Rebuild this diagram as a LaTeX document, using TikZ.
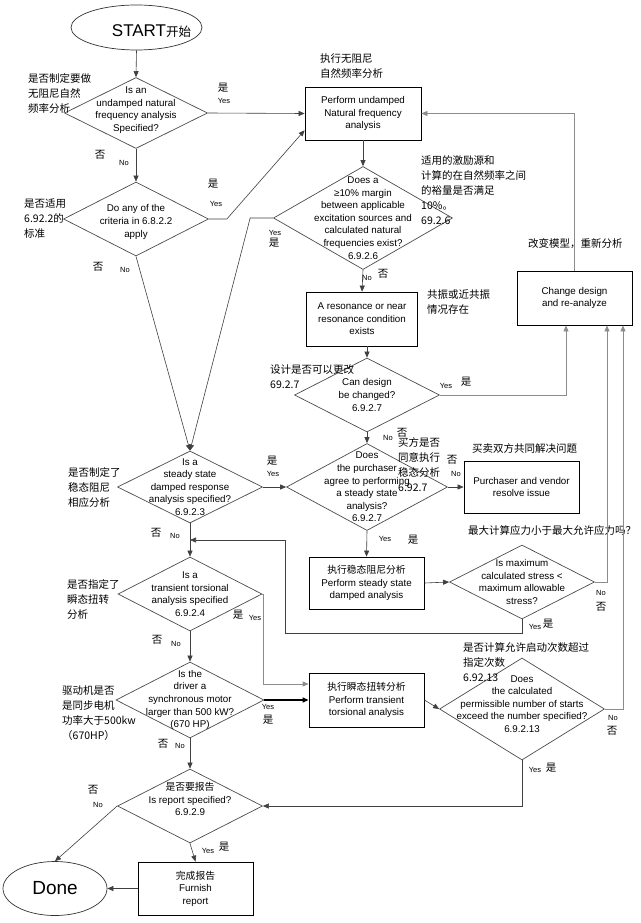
\documentclass[tikz,border=0pt]{standalone}
\usepackage{fontspec}
\setmainfont{Liberation Sans}
\newfontfamily\cjk{Noto Sans CJK SC}
\usetikzlibrary{arrows.meta,shapes.geometric,calc}

\begin{document}
\begin{tikzpicture}[x=1pt,y=-1pt,
 font=\fontsize{9.8}{12.6}\selectfont,>={Triangle[length=6pt,width=5pt]},
 box/.style={draw,line width=0.8pt,align=center,minimum width=115pt,minimum height=53pt,inner sep=1pt},
 dec/.style={draw=black!70,line width=0.7pt,diamond,inner sep=0pt},
 term/.style={draw=black!80,line width=0.7pt,ellipse,inner sep=0pt},
 qtxt/.style={align=center,inner sep=0pt},
 note/.style={font=\cjk\fontsize{10.5}{15}\selectfont,align=left,anchor=north west,inner sep=0pt},
 en/.style={font=\fontsize{7.5}{8}\selectfont,inner sep=0pt},
 zh/.style={font=\cjk\fontsize{10.5}{11}\selectfont,inner sep=0pt},
 flow/.style={->,draw=black!75,line width=0.6pt},
 gray flow/.style={->,draw=black!45,line width=0.8pt}]
\fill[white] (0,0) rectangle (640,923);
\useasboundingbox (0,0) rectangle (640,923);

\node[term,minimum width=131pt,minimum height=45pt,
 label={[xshift=15pt,yshift=-4pt]center:{\fontsize{17}{17}\selectfont START{\cjk\fontsize{12.5}{12.5}\selectfont 开始}}}] (start) at (136.5,27.5) {};
\node[dec,minimum width=143pt,minimum height=71pt,
 label={[qtxt,yshift=3pt]center:{Is an\\undamped natural\\frequency analysis\\Specified?}}] (d1) at (136,113) {};
\node[box,minimum width=116pt] (p1) at (363,113.5) {Perform undamped\\Natural frequency\\analysis};
\node[dec,minimum width=145pt,minimum height=74pt,
 label={[qtxt,yshift=-3pt]center:{Do any of the\\criteria in 6.8.2.2\\apply}}] (d2) at (136,219) {};
\node[dec,minimum width=179pt,minimum height=103pt,
 label={[qtxt]center:{Does a\\≥10\% margin\\between applicable\\excitation sources and\\calculated natural\\frequencies exist?\\6.9.2.6}}] (d3) at (363,218) {};
\node[box,minimum width=111pt,minimum height=54pt] (p2) at (362,319) {A resonance or near\\resonance condition\\exists};
\node[box,minimum height=54pt] (p3) at (574.5,298) {Change design\\and re-analyze};
\node[dec,minimum width=145pt,minimum height=74pt,
 label={[qtxt]center:{Can design\\be changed?\\6.9.2.7}}] (d5) at (367,395) {};
\node[dec,minimum width=145pt,minimum height=72pt,
 label={[qtxt]center:{Is a\\steady state\\damped response\\analysis specified?\\6.9.2.3}}] (d4) at (190,487) {};
\node[dec,minimum width=161pt,minimum height=87pt,
 label={[qtxt]center:{Does\\the purchaser\\agree to performing\\a steady state\\analysis?\\6.9.2.7}}] (d6) at (367,487) {};
\node[box,minimum height=52pt] (p4) at (521.5,487) {Purchaser and vendor\\resolve issue};
\node[box,minimum height=52pt] (p5) at (366.5,583) {{\cjk 执行稳态阻尼分析}\\Perform steady state\\damped analysis};
\node[dec,minimum width=145pt,minimum height=74pt,
 label={[qtxt]center:{Is maximum\\calculated stress <\\maximum allowable\\stress?}}] (d7) at (522,582) {};
\node[dec,minimum width=144pt,minimum height=74pt,
 label={[qtxt]center:{Is a\\transient torsional\\analysis specified\\6.9.2.4}}] (d8) at (190,594) {};
\node[dec,minimum width=148pt,minimum height=76pt,
 label={[qtxt]center:{Is the\\driver a\\synchronous motor\\larger than 500 kW?\\(670 HP)}}] (d9) at (190,700) {};
\node[box,minimum height=54pt] (p6) at (366.5,700) {{\cjk 执行瞬态扭转分析}\\Perform transient\\torsional analysis};
\node[dec,minimum width=165pt,minimum height=102pt,
 label={[qtxt,yshift=5pt]center:{Does\\the calculated\\permissible number of starts\\exceed the number specified?\\6.9.2.13}}] (d11) at (522,709) {};
\node[dec,minimum width=145pt,minimum height=74pt,
 label={[qtxt,yshift=7pt]center:{{\cjk 是否要报告}\\Is report specified?\\6.9.2.9}}] (d10) at (190,806) {};
\node[box] (p7) at (195.5,888.5) {{\cjk 完成报告}\\Furnish\\report};
\node[term,minimum width=104pt,minimum height=54pt] (done) at (55,888.5) {\fontsize{19}{19}\selectfont Done};

\node[note] (zd1) at (28,73) {是否制定要做\\无阻尼自然\\频率分析};
\node[note] (zp1) at (320,53) {执行无阻尼\\自然频率分析};
\node[note] (zd2) at (24,199) {是否适用\\6.92.2的\\标准};
\node[note] (zd3) at (421,155) {适用的激励源和\\计算的在自然频率之间\\的裕量是否满足\\10\%。\\69.2.6};
\node[note] (zp3) at (528,238) {改变模型，重新分析};
\node[note] (zp2) at (427,289) {共振或近共振\\情况存在};
\node[note] (zd5) at (270,364) {设计是否可以更改\\69.2.7};
\node[note] (zd4) at (68,467) {是否制定了\\稳态阻尼\\相应分析};
\node[note] (zd6) at (398,437) {买方是否\\同意执行\\稳态分析\\6.92.7};
\node[note] (zp4) at (472,443) {买卖双方共同解决问题};
\node[note] (zd7) at (468,525) {最大计算应力小于最大允许应力吗？};
\node[note] (zd8) at (67,579) {是否指定了\\瞬态扭转\\分析};
\node[note] (zd9) at (62,685) {驱动机是否\\是同步电机\\功率大于500kw\\（670HP）};
\node[note] (zd11) at (463,642) {是否计算允许启动次数超过\\指定次数\\6.92.13};

\node[zh] (d1yz) at (223,88) {是}; \node[en] (d1ye) at (224,101) {Yes};
\node[zh] (d1nz) at (100,155) {否}; \node[en] (d1ne) at (124,163) {No};
\node[zh] (d2yz) at (213,184) {是}; \node[en] (d2ye) at (216,204) {Yes};
\node[zh] (d2nz) at (98,267) {否}; \node[en] (d2ne) at (125,270) {No};
\node[en] (d3ye) at (275,233) {Yes}; \node[zh] (d3yz) at (274,243) {是};
\node[en] (d3ne) at (367,278) {No}; \node[zh] (d3nz) at (383,274) {否};
\node[en] (d5ye) at (446,386) {Yes}; \node[zh] (d5yz) at (466,382) {是};
\node[en] (d5ne) at (388,438) {No}; \node[zh] (d5nz) at (402,433) {否};
\node[zh] (d4yz) at (272,461) {是}; \node[en] (d4ye) at (273,474) {Yes};
\node[zh] (d4nz) at (156,533) {否}; \node[en] (d4ne) at (175,536) {No};
\node[zh] (d6nz) at (452,460) {否}; \node[en] (d6ne) at (456,474) {No};
\node[en] (d6ye) at (385,539) {Yes}; \node[zh] (d6yz) at (413,540) {是};
\node[en] (d7ne) at (601,593) {No}; \node[zh] (d7nz) at (601,607) {否};
\node[en] (d7ye) at (535,627) {Yes}; \node[zh] (d7yz) at (548,624) {是};
\node[zh] (d8yz) at (238,615) {是}; \node[en] (d8ye) at (255,618) {Yes};
\node[zh] (d8nz) at (157,640) {否}; \node[en] (d8ne) at (176,644) {No};
\node[en] (d9ye) at (268,707) {Yes}; \node[zh] (d9yz) at (268,720) {是};
\node[zh] (d9nz) at (163,744) {否}; \node[en] (d9ne) at (180,746) {No};
\node[en] (d11ne) at (613,718) {No}; \node[zh] (d11nz) at (612,731) {否};
\node[en] (d11ye) at (535,770) {Yes}; \node[zh] (d11yz) at (551,768) {是};
\node[zh] (d10nz) at (93,790) {否}; \node[en] (d10ne) at (98,805) {No};
\node[en] (d10ye) at (208,851) {Yes}; \node[zh] (d10yz) at (224,847) {是};

\coordinate (j1) at ($(d4.south)!0.5!(d8.north)$);
\draw[flow] (start.south) -- (d1.north);
\draw[flow] (d1.east) -- (p1.west);
\draw[flow] (d1.south) -- (d2.north);
\draw[flow] (d2.east) -- ++(18,0) -- (p1.196);
\draw[flow] (d2.south) -- (d4.north);
\draw[flow] (p1.south) -- (d3.north);
\draw[flow] (d3.west) -- ++(-23,0) -- (d4.north);
\draw[flow] (d3.south) -- (p2.north);
\draw[flow] (d5.north |- p2.south) -- (d5.north);
\draw[gray flow] (d5.east) -| ($(p3.south)+(-8.5,0)$);
\draw[gray flow] (p3.north) |- (p1.east);
\draw[flow] (d4.east) -- (d6.west);
\draw[flow] (d4.south) -- (d8.north);
\draw[flow] (d5.south) -- (d6.north);
\draw[flow] (d6.east) -- (p4.west);
\draw[flow] (d6.south) -- (p5.north);
\draw[flow] (p5.east) -- (d7.west);
\draw[gray flow] (d7.east) -| ($(p3.south)+(32.5,0)$);
\draw[flow] (d7.south) -- ++(0,14) -| ($(j1)+(95,0)$) -- (j1);
\draw[gray flow] (d8.east) -- ++(1,0) |- ($(p6.west)+(0,-16)$);
\draw[flow,draw=black,line width=1.4pt] (d9.east) -- (p6.west);
\draw[flow] (d8.south) -- (d9.north);
\draw[flow] (d9.south) -- (d10.north);
\draw[flow] (p6.east) -- (d11.west);
\draw[gray flow] (d11.east) -| ($(p3.south)+(48.5,0)$);
\draw[flow] (d11.south) |- (d10.east);
\draw[flow] (d10.west) -- (done.north);
\draw[flow] (d10.south) -- (p7.north);
\draw[flow] (p7.west) -- (done.east);
\end{tikzpicture}
\end{document}
